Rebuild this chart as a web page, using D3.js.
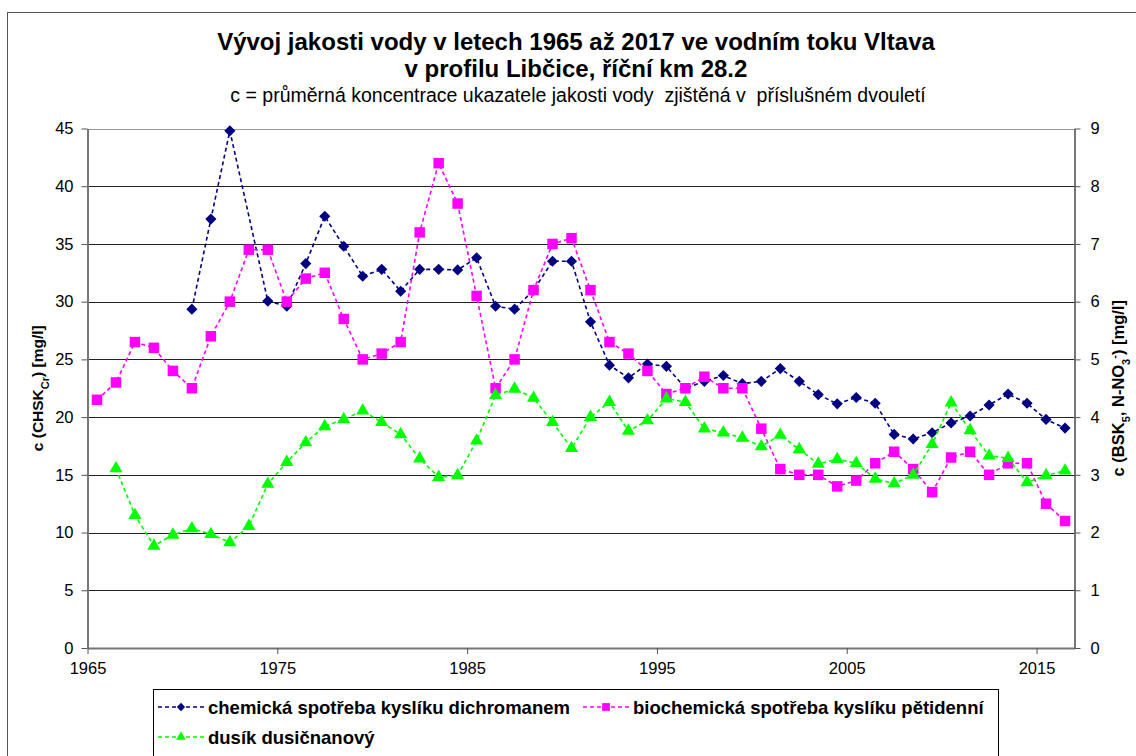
<!DOCTYPE html>
<html lang="cs">
<head>
<meta charset="utf-8">
<title>Vývoj jakosti vody – Vltava, Libčice</title>
<script src="https://cdn.jsdelivr.net/npm/d3@7"></script>
<style>
  body { margin: 0; background: #fff; }
  svg { font-family: "Liberation Sans", Arial, sans-serif; }
  .title { font-size: 24px; font-weight: bold; }
  .subtitle { font-size: 19.5px; white-space: pre; }
  .axis text { font-size: 16.5px; fill: #000; font-family: "Liberation Sans", Arial, sans-serif; }
  .axisTitle { font-weight: bold; }
  .legend text { font-size: 18.5px; font-weight: bold; }
</style>
</head>
<body>
<script>
// two-year averages, plotted at the middle of each period
const years = [1965.5, 1966.5, 1967.5, 1968.5, 1969.5, 1970.5, 1971.5, 1972.5, 1973.5, 1974.5,
  1975.5, 1976.5, 1977.5, 1978.5, 1979.5, 1980.5, 1981.5, 1982.5, 1983.5, 1984.5,
  1985.5, 1986.5, 1987.5, 1988.5, 1989.5, 1990.5, 1991.5, 1992.5, 1993.5, 1994.5,
  1995.5, 1996.5, 1997.5, 1998.5, 1999.5, 2000.5, 2001.5, 2002.5, 2003.5, 2004.5,
  2005.5, 2006.5, 2007.5, 2008.5, 2009.5, 2010.5, 2011.5, 2012.5, 2013.5, 2014.5,
  2015.5, 2016.5];

// CHSK-Cr [mg/l], left axis
const chsk = [null, null, null, null, null, 29.35, 37.15, 44.8, null, 30.05,
  29.6, 33.3, 37.4, 34.8, 32.2, 32.8, 30.9, 32.8, 32.8, 32.75,
  33.8, 29.6, 29.35, 31.0, 33.5, 33.5, 28.25, 24.5, 23.4, 24.6,
  24.4, 22.5, 23.1, 23.6, 22.9, 23.1, 24.2, 23.1, 21.95, 21.15,
  21.7, 21.2, 18.5, 18.1, 18.65, 19.5, 20.1, 21.05, 22.0, 21.2,
  19.8, 19.05];

// BSK5 [mg/l], right axis
const bsk = [4.3, 4.6, 5.3, 5.2, 4.8, 4.5, 5.4, 6.0, 6.9, 6.9,
  6.0, 6.4, 6.5, 5.7, 5.0, 5.1, 5.3, 7.2, 8.4, 7.7,
  6.1, 4.5, 5.0, 6.2, 7.0, 7.1, 6.2, 5.3, 5.1, 4.8,
  4.4, 4.5, 4.7, 4.5, 4.5, 3.8, 3.1, 3.0, 3.0, 2.8,
  2.9, 3.2, 3.4, 3.1, 2.7, 3.3, 3.4, 3.0, 3.2, 3.2,
  2.5, 2.2];

// N-NO3 [mg/l], right axis
const nno3 = [null, 3.11, 2.30, 1.77, 1.96, 2.07, 1.97, 1.83, 2.11, 2.84,
  3.22, 3.56, 3.84, 3.96, 4.11, 3.91, 3.70, 3.28, 2.96, 2.99,
  3.59, 4.38, 4.49, 4.33, 3.91, 3.46, 4.0, 4.26, 3.76, 3.94,
  4.32, 4.26, 3.80, 3.73, 3.64, 3.49, 3.69, 3.44, 3.19, 3.27,
  3.2, 2.93, 2.85, 3.0, 3.53, 4.25, 3.77, 3.33, 3.29, 2.87,
  2.99, 3.07];

const xTicks = [1965, 1975, 1985, 1995, 2005, 2015];
const leftTicks = [0, 5, 10, 15, 20, 25, 30, 35, 40, 45];
const rightTicks = [0, 1, 2, 3, 4, 5, 6, 7, 8, 9];

const seriesNames = ["chemická spotřeba kyslíku dichromanem",
  "biochemická spotřeba kyslíku pětidenní",
  "dusík dusičnanový"];

const width = 1136, height = 756;
const plot = { left: 87.5, right: 1074.5, top: 128.5, bottom: 648 };

const svg = d3.select("body").append("svg")
  .attr("width", width)
  .attr("height", height);

// outer chart frame
svg.append("rect")
  .attr("x", 7.5).attr("y", 12.5)
  .attr("width", 1140).attr("height", 760)
  .attr("fill", "none").attr("stroke", "#555");

// titles
svg.append("text").attr("class", "title")
  .attr("x", 576).attr("y", 50).attr("text-anchor", "middle")
  .text("Vývoj jakosti vody v letech 1965 až 2017 ve vodním toku Vltava");
svg.append("text").attr("class", "title")
  .attr("x", 576).attr("y", 77).attr("text-anchor", "middle")
  .text("v profilu Libčice, říční km 28.2");
svg.append("text").attr("class", "subtitle")
  .attr("x", 578).attr("y", 102).attr("text-anchor", "middle")
  .text("c = průměrná koncentrace ukazatele jakosti vody  zjištěná v  příslušném dvouletí");

// scales
const x = d3.scaleLinear().domain([1965, 2017]).range([plot.left, plot.right]);
const yL = d3.scaleLinear().domain([0, 45]).range([plot.bottom, plot.top]);
const yR = d3.scaleLinear().domain([0, 9]).range([plot.bottom, plot.top]);

// horizontal gridlines
svg.append("g").selectAll("line")
  .data(leftTicks.slice(1))
  .join("line")
  .attr("x1", plot.left).attr("x2", plot.right)
  .attr("y1", d => Math.round(yL(d)) + 0.5)
  .attr("y2", d => Math.round(yL(d)) + 0.5)
  .attr("stroke", d => d === 45 ? "#999" : "#222")
  .attr("stroke-width", 1);

// axes
const xAxis = svg.append("g").attr("class", "axis")
  .attr("transform", "translate(0," + plot.bottom + ")")
  .call(d3.axisBottom(x).tickValues(xTicks).tickFormat(d3.format("d")).tickSize(6).tickSizeOuter(0).tickPadding(8));
const lAxis = svg.append("g").attr("class", "axis")
  .attr("transform", "translate(" + plot.left + ",0)")
  .call(d3.axisLeft(yL).tickValues(leftTicks).tickSize(6).tickSizeOuter(0).tickPadding(8));
const rAxis = svg.append("g").attr("class", "axis")
  .attr("transform", "translate(" + plot.right + ",0)")
  .call(d3.axisRight(yR).tickValues(rightTicks).tickSize(6).tickSizeOuter(0).tickPadding(10));
[xAxis, lAxis, rAxis].forEach(a => {
  a.select(".domain").attr("stroke", "#777").attr("stroke-width", 2);
  a.selectAll(".tick line").attr("stroke", "#555");
});

// axis titles
const lt = svg.append("text").attr("class", "axisTitle")
  .attr("font-size", "15.5px")
  .attr("transform", "translate(43," + (plot.top + plot.bottom) / 2 + ") rotate(-90)")
  .attr("text-anchor", "middle");
lt.append("tspan").text("c (CHSK");
lt.append("tspan").attr("baseline-shift", "sub").attr("font-size", "11px").text("Cr");
lt.append("tspan").text(") [mg/l]");

const rt = svg.append("text").attr("class", "axisTitle")
  .attr("font-size", "16.5px")
  .attr("transform", "translate(1124," + (plot.top + plot.bottom) / 2 + ") rotate(-90)")
  .attr("text-anchor", "middle");
rt.append("tspan").text("c (BSK");
rt.append("tspan").attr("baseline-shift", "sub").attr("font-size", "11px").text("5");
rt.append("tspan").text(", N-NO");
rt.append("tspan").attr("baseline-shift", "sub").attr("font-size", "11px").text("3");
rt.append("tspan").attr("baseline-shift", "super").attr("font-size", "11px").text("-");
rt.append("tspan").text(") [mg/l]");

// series
const series = [
  { name: seriesNames[0], values: chsk, y: yL, color: "#000080", symbol: d3.symbolSquare, size: 62, rotate: 45 },
  { name: seriesNames[1], values: bsk, y: yR, color: "#FF00FF", symbol: d3.symbolSquare, size: 110, rotate: 0 },
  { name: seriesNames[2], values: nno3, y: yR, color: "#00FF00", symbol: d3.symbolTriangle, size: 75, rotate: 0 }
];

series.forEach(s => {
  const pts = years.map((yr, i) => [yr, s.values[i]]).filter(p => p[1] != null);
  const line = d3.line().x(p => x(p[0])).y(p => s.y(p[1]));
  svg.append("path")
    .datum(pts)
    .attr("d", line)
    .attr("fill", "none")
    .attr("stroke", s.color)
    .attr("stroke-width", 1.6)
    .attr("stroke-dasharray", "4,3");
  svg.append("g").selectAll("path")
    .data(pts)
    .join("path")
    .attr("d", d3.symbol().type(s.symbol).size(s.size))
    .attr("transform", p => "translate(" + x(p[0]) + "," + s.y(p[1]) + ") rotate(" + s.rotate + ")")
    .attr("fill", s.color);
});

// legend
const legend = svg.append("g").attr("class", "legend");
legend.append("rect")
  .attr("x", 153.5).attr("y", 689.5)
  .attr("width", 845).attr("height", 80)
  .attr("fill", "#fff").attr("stroke", "#000");

const legendPos = [[158, 707], [583, 707], [158, 737]];
series.forEach((s, i) => {
  const [lx, ly] = legendPos[i];
  legend.append("line")
    .attr("x1", lx).attr("x2", lx + 46)
    .attr("y1", ly).attr("y2", ly)
    .attr("stroke", s.color).attr("stroke-width", 1.6)
    .attr("stroke-dasharray", "4,3");
  legend.append("path")
    .attr("d", d3.symbol().type(s.symbol).size(s.size * 0.55))
    .attr("transform", "translate(" + (lx + 23) + "," + ly + ") rotate(" + s.rotate + ")")
    .attr("fill", s.color);
  legend.append("text")
    .attr("x", lx + 50).attr("y", ly + 6.5)
    .text(s.name);
});
</script>
</body>
</html>
